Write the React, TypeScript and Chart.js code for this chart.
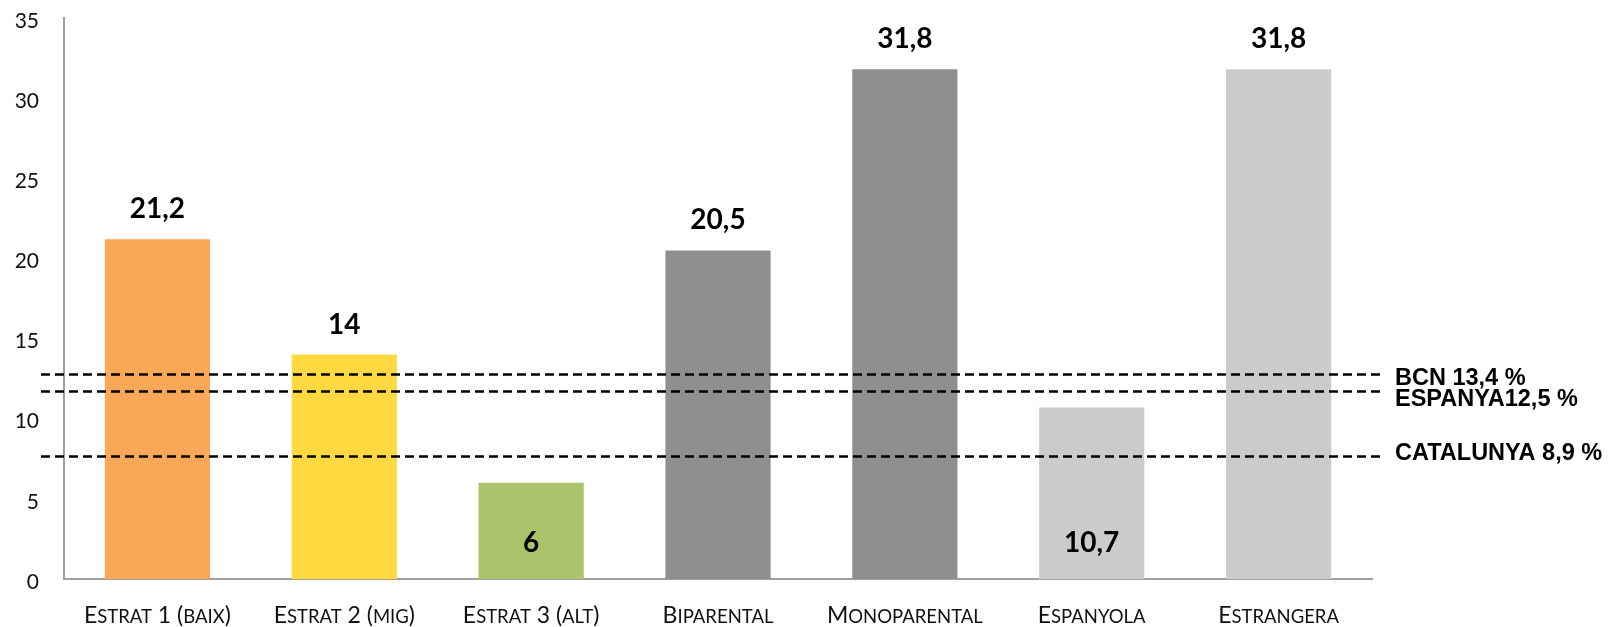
import { useEffect, useRef } from "react";
import { Chart, registerables } from "chart.js";

Chart.register(...registerables);

// ---- data ----
const categories = [
  "Estrat 1 (baix)",
  "Estrat 2 (mig)",
  "Estrat 3 (alt)",
  "Biparental",
  "Monoparental",
  "Espanyola",
  "Estrangera",
];
const values = [21.2, 14, 6, 20.5, 31.8, 10.7, 31.8];
const barColors = ["#F9A857", "#FFD93F", "#A9C46B", "#8F8F8F", "#8F8F8F", "#CBCBCB", "#CBCBCB"];
const refNames = ["BCN 13,4 %", "ESPANYA12,5 %", "CATALUNYA 8,9 %"];
const refValues = [12.8, 11.7, 7.7];
const yMin = 0;
const yMax = 35;
const yStep = 5;

// ---- style helpers (not data) ----
const labelInsideBase = [false, false, true, false, false, true, false];
const refLabelDy = [4.4, 8.3, -2.4];
const CAP_FONT = "23px Lato, sans-serif";
const SMALL_FONT = "18.5px Lato, sans-serif";

function smallCapsRuns(text: string) {
  const runs: { t: string; small: boolean }[] = [];
  for (const ch of text) {
    const small = ch !== ch.toUpperCase();
    const last = runs[runs.length - 1];
    if (last && last.small === small) last.t += small ? ch.toUpperCase() : ch;
    else runs.push({ t: small ? ch.toUpperCase() : ch, small });
  }
  return runs;
}

const annotations = {
  id: "annotations",
  afterDatasetsDraw(chart: any) {
    const { ctx, chartArea } = chart;
    const y = chart.scales.y;
    const x = chart.scales.x;
    const meta = chart.getDatasetMeta(0);
    ctx.save();

    // dashed reference lines
    ctx.setLineDash([9, 5]);
    ctx.lineWidth = 2.5;
    ctx.strokeStyle = "#000";
    refValues.forEach((v) => {
      const py = Math.round(y.getPixelForValue(v)) + 0.5;
      ctx.beginPath();
      ctx.moveTo(chartArea.left - 23, py);
      ctx.lineTo(chartArea.right + 10, py);
      ctx.stroke();
    });
    ctx.setLineDash([]);

    // reference labels
    ctx.font = 'bold 23.5px "Liberation Sans", Arial, sans-serif';
    ctx.fillStyle = "#000";
    ctx.textAlign = "left";
    ctx.textBaseline = "middle";
    refNames.forEach((n, i) => {
      ctx.fillText(n, chartArea.right + 23, y.getPixelForValue(refValues[i]) + refLabelDy[i]);
    });

    // value labels
    ctx.font = "bold 28px Lato, sans-serif";
    ctx.textAlign = "center";
    ctx.textBaseline = "alphabetic";
    meta.data.forEach((bar: any, i: number) => {
      const txt = String(values[i]).replace(".", ",");
      const py = labelInsideBase[i] ? y.getPixelForValue(0) - 27 : bar.y - 21;
      ctx.fillText(txt, bar.x, py);
    });

    // category labels in small caps
    ctx.textAlign = "left";
    ctx.textBaseline = "alphabetic";
    ctx.fillStyle = "#111";
    const baseY = chartArea.bottom + 44;
    categories.forEach((label, i) => {
      const runs = smallCapsRuns(label);
      let total = 0;
      const widths = runs.map((r) => {
        ctx.font = r.small ? SMALL_FONT : CAP_FONT;
        const w = ctx.measureText(r.t).width;
        total += w;
        return w;
      });
      let cx = x.getPixelForTick(i) - total / 2;
      runs.forEach((r, k) => {
        ctx.font = r.small ? SMALL_FONT : CAP_FONT;
        ctx.fillText(r.t, cx, baseY);
        cx += widths[k];
      });
    });

    ctx.restore();
  },
};

export default function App() {
  const ref = useRef<HTMLCanvasElement>(null);

  useEffect(() => {
    if (!ref.current) return;
    const chart = new Chart(ref.current, {
      type: "bar",
      data: {
        labels: categories,
        datasets: [
          {
            data: values,
            backgroundColor: barColors,
            borderWidth: 0,
            categoryPercentage: 1,
            barPercentage: 0.563,
          },
        ],
      },
      options: {
        animation: false,
        responsive: false,
        devicePixelRatio: 1,
        layout: { padding: { top: 10, right: 240, bottom: 0, left: 0 } },
        plugins: {
          legend: { display: false },
          tooltip: { enabled: false },
        },
        scales: {
          x: {
            grid: { display: false, drawTicks: false, tickLength: 0 },
            border: { display: true, color: "#A0A0A0", width: 2 },
            ticks: { display: false },
            afterFit: (s: any) => {
              s.height = 48;
              s.paddingLeft = 0;
              s.paddingRight = 0;
            },
          },
          y: {
            min: yMin,
            max: yMax,
            grid: { display: false, drawTicks: false, tickLength: 0 },
            border: { display: true, color: "#A0A0A0", width: 2 },
            ticks: {
              stepSize: yStep,
              padding: 25,
              labelOffset: 3,
              color: "#111",
              font: { family: "Lato", size: 21 },
            },
            afterFit: (s: any) => {
              s.width = 56;
              s.paddingTop = 0;
              s.paddingBottom = 0;
            },
          },
        },
      },
      plugins: [annotations],
    });
    return () => chart.destroy();
  }, []);

  return (
    <div style={{ width: 1604, height: 619 }}>
      <canvas ref={ref} width={1604} height={619} style={{ display: "block" }} />
    </div>
  );
}
